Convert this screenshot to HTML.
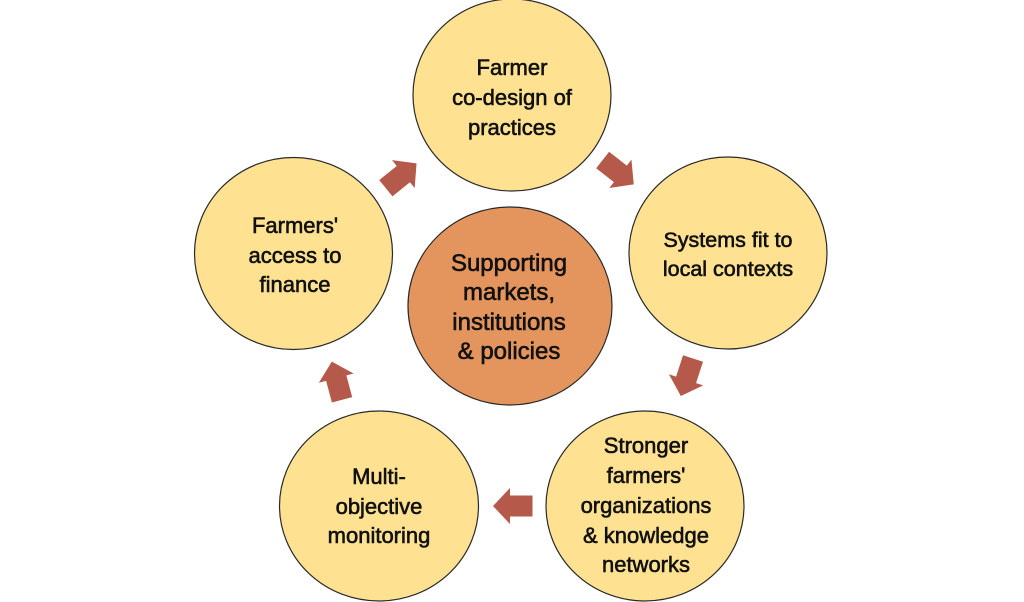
<!DOCTYPE html>
<html>
<head>
<meta charset="utf-8">
<style>
  html, body { margin: 0; padding: 0; background: #ffffff; }
  body { width: 1024px; height: 602px; overflow: hidden; }
  svg { display: block; }
  text {
    font-family: "Liberation Sans", "DejaVu Sans", sans-serif;
    fill: #111111;
    stroke: #111111;
    stroke-width: 0.6px;
  }
</style>
</head>
<body>
<svg width="1024" height="602" viewBox="0 0 1024 602" xmlns="http://www.w3.org/2000/svg">
  <defs>
    <polygon id="arr" points="-19.5,-10.5 3,-10.5 3,-18 20,0 3,18 3,10.5 -19.5,10.5" />
  </defs>

  <!-- circles -->
  <g stroke="#2a2a2a" stroke-width="1.2">
    <ellipse cx="512" cy="95" rx="99" ry="96" fill="#FEE291"/>
    <ellipse cx="728" cy="253" rx="99" ry="96" fill="#FEE291"/>
    <ellipse cx="293.5" cy="253.5" rx="99" ry="96" fill="#FEE291"/>
    <ellipse cx="379" cy="506" rx="99.5" ry="95" fill="#FEE291"/>
    <ellipse cx="645" cy="506" rx="99" ry="95" fill="#FEE291"/>
    <ellipse cx="510" cy="306" rx="102" ry="99" fill="#E4955D"/>
  </g>

  <!-- arrows -->
  <g fill="#B5594A">
    <use href="#arr" transform="translate(401,176) rotate(-39)"/>
    <use href="#arr" transform="translate(618,172) rotate(38)"/>
    <use href="#arr" transform="translate(687,377) rotate(108)"/>
    <use href="#arr" transform="translate(513,506) rotate(180)"/>
    <use href="#arr" transform="translate(337,381) rotate(-105)"/>
  </g>

  <!-- top -->
  <g font-size="22" text-anchor="middle">
    <text x="512" y="75">Farmer</text>
    <text x="512" y="105">co-design of</text>
    <text x="512" y="135">practices</text>
  </g>

  <!-- right -->
  <g font-size="21.5" text-anchor="middle">
    <text x="728" y="247">Systems fit to</text>
    <text x="728" y="276">local contexts</text>
  </g>

  <!-- left -->
  <g font-size="22" text-anchor="middle">
    <text x="295" y="233">Farmers'</text>
    <text x="295" y="263">access to</text>
    <text x="295" y="292">finance</text>
  </g>

  <!-- bottom left -->
  <g font-size="22" text-anchor="middle">
    <text x="379" y="484">Multi-</text>
    <text x="379" y="514">objective</text>
    <text x="379" y="543">monitoring</text>
  </g>

  <!-- bottom right -->
  <g font-size="22" text-anchor="middle">
    <text x="646" y="453">Stronger</text>
    <text x="646" y="483">farmers'</text>
    <text x="646" y="513">organizations</text>
    <text x="646" y="543">&amp; knowledge</text>
    <text x="646" y="572">networks</text>
  </g>

  <!-- center -->
  <g font-size="24" text-anchor="middle">
    <text x="509" y="271">Supporting</text>
    <text x="509" y="300">markets,</text>
    <text x="509" y="330">institutions</text>
    <text x="509" y="359">&amp; policies</text>
  </g>
</svg>
</body>
</html>
